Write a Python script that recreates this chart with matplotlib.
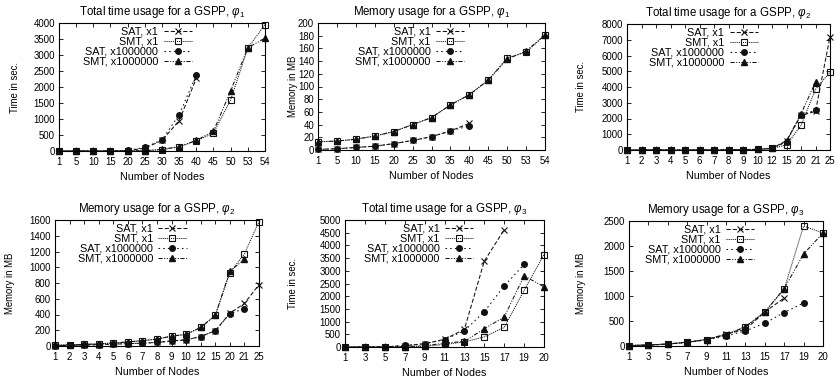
import matplotlib
matplotlib.use("Agg")
import matplotlib.pyplot as plt
import numpy as np

plt.rcParams["font.family"] = ["Liberation Sans", "DejaVu Sans"]
plt.rcParams["font.size"] = 7.2
plt.rcParams["mathtext.fontset"] = "custom"
plt.rcParams["mathtext.rm"] = "Liberation Sans"
plt.rcParams["mathtext.it"] = "Liberation Sans:italic"

# x categories
nodes_phi1 = ["1", "5", "10", "15", "20", "25", "30", "35", "40", "45", "50", "53", "54"]
nodes_phi2 = ["1", "2", "3", "4", "5", "6", "7", "8", "9", "10", "12", "15", "20", "21", "25"]
nodes_phi3 = ["1", "3", "5", "7", "9", "11", "13", "15", "17", "19", "20"]

# phi1, time (sec)
t1_sat_x1 = [0, 0, 0, 0, 10, 90, 330, 950, 2270]
t1_smt_x1 = [0, 0, 0, 0, 0, 10, 40, 130, 320, 560, 1600, 3220, 3950]
t1_sat_1m = [0, 0, 0, 0, 20, 110, 350, 1130, 2380]
t1_smt_1m = [0, 0, 0, 0, 0, 10, 50, 140, 330, 620, 1880, 3230, 3520]

# phi1, memory (MB)
m1_sat_x1 = [1, 2, 4, 6, 10, 15, 21, 30, 42]
m1_smt_x1 = [13, 14, 17, 22, 29, 40, 51, 71, 87, 110, 145, 154, 181]
m1_sat_1m = [1, 2, 4, 6, 10, 15, 21, 30, 38]
m1_smt_1m = [13, 14, 17, 22, 29, 40, 51, 71, 87, 110, 143, 156, 181]

# phi2, time (sec)
t2_sat_x1 = [0, 0, 0, 0, 0, 0, 5, 10, 20, 40, 100, 600, 2200, 2450, 7200]
t2_smt_x1 = [0, 0, 0, 0, 0, 0, 5, 10, 20, 40, 100, 320, 1560, 3850, 4950]
t2_sat_1m = [0, 0, 0, 0, 0, 0, 5, 10, 20, 40, 100, 520, 2220, 2540]
t2_smt_1m = [0, 0, 0, 0, 0, 0, 5, 10, 20, 40, 100, 550, 2300, 4300]

# phi2, memory (MB)
m2_sat_x1 = [5, 8, 12, 18, 24, 30, 36, 45, 64, 78, 120, 195, 415, 540, 780]
m2_smt_x1 = [10, 15, 20, 28, 38, 52, 68, 88, 125, 148, 235, 390, 930, 1170, 1580]
m2_sat_1m = [5, 8, 12, 18, 24, 30, 36, 45, 64, 78, 120, 195, 410, 475]
m2_smt_1m = [10, 15, 20, 28, 38, 52, 68, 88, 125, 148, 235, 390, 950, 1100]

# phi3, time (sec)
t3_sat_x1 = [0, 0, 5, 50, 130, 300, 700, 3380, 4620]
t3_smt_x1 = [0, 0, 0, 10, 30, 100, 200, 400, 770, 2230, 3640]
t3_sat_1m = [0, 0, 5, 60, 130, 290, 640, 1390, 2400, 3250]
t3_smt_1m = [0, 0, 0, 15, 50, 150, 220, 720, 1180, 2800, 2370]

# phi3, memory (MB)
m3_sat_x1 = [10, 20, 40, 75, 130, 240, 330, 680, 960]
m3_smt_x1 = [10, 20, 40, 75, 130, 230, 390, 680, 1140, 2400, 2260]
m3_sat_1m = [5, 15, 35, 70, 120, 200, 300, 455, 670, 860]
m3_smt_1m = [10, 20, 40, 75, 130, 220, 380, 680, 1150, 1840, 2260]

labels = ["SAT, x1", "SMT, x1", "SAT, x1000000", "SMT, x1000000"]
styles = [
    dict(ls=(0, (4, 2)), marker="x", ms=4.4, mew=0.8),
    dict(ls=(0, (1, 1)), marker="s", ms=4.4, mfc="none", mew=0.8),
    dict(ls=(0, (1.5, 3)), marker="o", ms=4.0),
    dict(ls=(0, (4, 1.5, 1, 1.5, 1, 1.5)), marker="^", ms=4.4),
]

panels = [
    # (pixel box l, t, r, b), title, ylabel, cats, series, ymax, ystep, ylabel x pixel
    ((59, 23, 265, 151), r"Total time usage for a GSPP, $\varphi_1$", "Time in sec.",
     nodes_phi1, [t1_sat_x1, t1_smt_x1, t1_sat_1m, t1_smt_1m], 4000, 500, 15),
    ((318, 23, 545, 150), r"Memory usage for a GSPP, $\varphi_1$", "Memory in MB",
     nodes_phi1, [m1_sat_x1, m1_smt_x1, m1_sat_1m, m1_smt_1m], 200, 20, 293),
    ((627, 24, 830, 150), r"Total time usage for a GSPP, $\varphi_2$", "Time in sec.",
     nodes_phi2, [t2_sat_x1, t2_smt_x1, t2_sat_1m, t2_smt_1m], 8000, 1000, 581),
    ((55, 220, 259, 346), r"Memory usage for a GSPP, $\varphi_2$", "Memory in MB",
     nodes_phi2, [m2_sat_x1, m2_smt_x1, m2_sat_1m, m2_smt_1m], 1600, 200, 10),
    ((345, 220, 544, 347), r"Total time usage for a GSPP, $\varphi_3$", "Time in sec.",
     nodes_phi3, [t3_sat_x1, t3_smt_x1, t3_sat_1m, t3_smt_1m], 5000, 500, 293),
    ((629, 221, 823, 346), r"Memory usage for a GSPP, $\varphi_3$", "Memory in MB",
     nodes_phi3, [m3_sat_x1, m3_smt_x1, m3_sat_1m, m3_smt_1m], 2500, 500, 581),
]

W, H = 836, 384
fig = plt.figure(figsize=(W / 100, H / 100), dpi=100)

for (l, t, r, b), title, ylabel, cats, series, ymax, ystep, ylx in panels:
    ax = fig.add_axes([l / W, 1 - b / H, (r - l) / W, (b - t) / H])
    for vals, lab, st in zip(series, labels, styles):
        x = np.arange(len(vals))
        ax.plot(x, vals, color="#111111", lw=0.75, label=lab, clip_on=False, **st)
    ax.set_xlim(0, len(cats) - 1)
    ax.set_ylim(0, ymax)
    ax.set_xticks(np.arange(len(cats)))
    ax.set_xticklabels(cats)
    ax.set_yticks(np.arange(0, ymax + 1, ystep))
    ax.tick_params(direction="in", top=True, right=True, length=3, width=0.6,
                   labelsize=6.9)
    ax.tick_params(axis="x", pad=4.5)
    ax.tick_params(axis="y", pad=2.8)
    for sp in ax.spines.values():
        sp.set_linewidth(0.8)
    ax.set_title(title, fontsize=8.3, pad=5.5)
    ax.set_xlabel("Number of Nodes", fontsize=7.7, labelpad=3.5)
    ax.set_ylabel(ylabel, fontsize=6.9, va="center")
    ax.yaxis.set_label_coords((ylx - l) / (r - l), 0.5)
    ax.legend(loc="upper right", bbox_to_anchor=(0.645, 0.97), frameon=False,
              markerfirst=False, numpoints=1, handlelength=2.6, handletextpad=0.5,
              labelspacing=0.0, borderpad=0, borderaxespad=0, fontsize=7.8)

fig.savefig("out.png", dpi=100)
